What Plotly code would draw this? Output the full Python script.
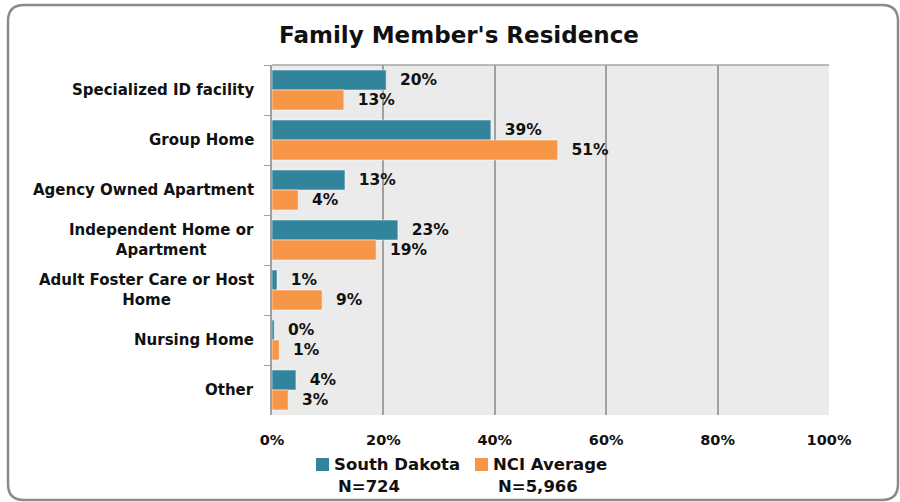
import plotly.graph_objects as go

categories = ["Specialized ID facility", "Group Home", "Agency Owned Apartment",
              "Independent Home or<br>Apartment", "Adult Foster Care or Host<br>Home",
              "Nursing Home", "Other"]
sd_values = [20.5, 39.3, 13.1, 22.6, 0.9, 0.4, 4.3]
nci_values = [12.9, 51.3, 4.7, 18.7, 9.0, 1.3, 2.9]
sd_labels = ["20%", "39%", "13%", "23%", "1%", "0%", "4%"]
nci_labels = ["13%", "51%", "4%", "19%", "9%", "1%", "3%"]
series_names = ["South Dakota", "NCI Average"]
series_n = ["N=724", "N=5,966"]
x_ticks = [0, 20, 40, 60, 80, 100]
x_tick_labels = ["0%", "20%", "40%", "60%", "80%", "100%"]

SD_COLOR = "#31849B"
NCI_COLOR = "#F79646"
FONT = "DejaVu Sans"
TXT = "#111111"

W, H = 900, 502
PX0, PX1, PY0, PY1 = 272, 829, 65, 415  # plot area in pixels


def px(x):
    return (x - PX0) / (PX1 - PX0)


def py(y):
    return (PY1 - y) / (PY1 - PY0)


def bold(size):
    return dict(family=FONT, size=size, color=TXT, weight="bold")


colors = [SD_COLOR, NCI_COLOR]
fig = go.Figure()
for name, vals, labs, col in zip(series_names, [sd_values, nci_values],
                                 [sd_labels, nci_labels], colors):
    fig.add_trace(go.Bar(
        y=categories, x=vals, orientation="h", name=name,
        marker=dict(color=col, line=dict(color="rgba(255,255,255,0.5)", width=1)),
        text=["  " + t for t in labs], textposition="outside", cliponaxis=False,
        textfont=bold(15.5), showlegend=False,
    ))

annotations = []
for c in categories:
    annotations.append(dict(
        x=0, xref="paper", y=c, yref="y", text=c, showarrow=False,
        xanchor="right", xshift=-16, align="center",
        font=bold(15),
    ))

shapes = []
# legend (square swatches + names) and N counts underneath
legend_swatch_x = [316, 475]
legend_text_x = [334, 493]
n_center_x = [369, 538]
for name, col, sx, tx, nx, n in zip(series_names, colors, legend_swatch_x,
                                    legend_text_x, n_center_x, series_n):
    shapes.append(dict(type="rect", xref="paper", yref="paper",
                       x0=px(sx), x1=px(sx + 13), y0=py(458), y1=py(471),
                       fillcolor=col, line=dict(width=0)))
    annotations.append(dict(
        x=px(tx), xref="paper", y=py(464), yref="paper", text=name,
        showarrow=False, xanchor="left", yanchor="middle", xshift=-2,
        font=bold(16.5),
    ))
    annotations.append(dict(
        x=px(nx), xref="paper", y=py(486), yref="paper", text=n,
        showarrow=False, xanchor="center", yanchor="middle",
        font=bold(16.5),
    ))

# rounded outer border
bx0, bx1, by0, by1, r = 8, 898, 5, 500, 16
path = (f"M {px(bx0 + r)},{py(by0)} L {px(bx1 - r)},{py(by0)} "
        f"Q {px(bx1)},{py(by0)} {px(bx1)},{py(by0 + r)} "
        f"L {px(bx1)},{py(by1 - r)} Q {px(bx1)},{py(by1)} {px(bx1 - r)},{py(by1)} "
        f"L {px(bx0 + r)},{py(by1)} Q {px(bx0)},{py(by1)} {px(bx0)},{py(by1 - r)} "
        f"L {px(bx0)},{py(by0 + r)} Q {px(bx0)},{py(by0)} {px(bx0 + r)},{py(by0)} Z")

shapes += [
    dict(type="path", path=path, xref="paper", yref="paper",
         line=dict(color="#8A8A8A", width=2.5), layer="above"),
    dict(type="line", xref="paper", yref="paper", x0=0, x1=1, y0=1, y1=1,
         line=dict(color="#A6A6A6", width=1.5), layer="below"),
]

fig.update_layout(
    width=W, height=H,
    margin=dict(l=PX0, r=W - PX1, t=PY0, b=H - PY1),
    paper_bgcolor="white", plot_bgcolor="#EBEBEB",
    barmode="group", bargap=0.2, bargroupgap=0.0,
    title=dict(text="Family Member's Residence", xref="container", x=459 / W,
               xanchor="center", y=1 - 35 / H, yanchor="middle", font=bold(23)),
    font=dict(family=FONT, color=TXT),
    xaxis=dict(range=[0, 100], tickmode="array", tickvals=x_ticks, ticktext=x_tick_labels,
               showgrid=True, gridcolor="#A0A0A0", gridwidth=1.5,
               zeroline=False, showline=False, ticks="",
               tickfont=bold(14.5), ticklabelstandoff=14),
    yaxis=dict(autorange="reversed", showticklabels=False, showgrid=False,
               showline=True, linecolor="#A0A0A0", linewidth=1.5,
               ticks="outside", tickson="boundaries", ticklen=6, tickcolor="#A0A0A0",
               zeroline=False),
    annotations=annotations,
    shapes=shapes,
    showlegend=False,
)

fig.write_html("out.html", config={"displayModeBar": False},
               post_script="document.body.style.margin='0';")
